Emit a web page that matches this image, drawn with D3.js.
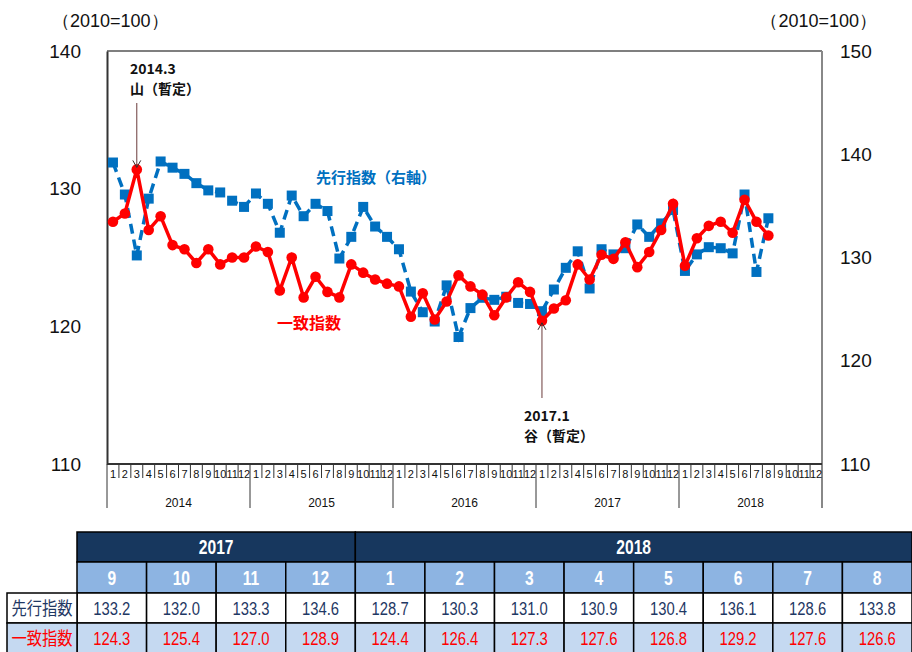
<!DOCTYPE html>
<html>
<head>
<meta charset="utf-8">
<script src="https://cdn.jsdelivr.net/npm/d3@7"></script>
<style>
  body { margin: 0; background: #fff; }
  svg { display: block; }
</style>
</head>
<body>
<div id="chart"></div>
<script>
// data (2014.1 - 2018.8)
var years = [2014, 2015, 2016, 2017, 2018];
var monthNames = ["1","2","3","4","5","6","7","8","9","10","11","12"];
var coincident = [
  127.6, 128.2, 131.4, 127.0, 128.0, 125.9, 125.6, 124.6, 125.6, 124.5, 125.0, 125.0,
  125.8, 125.4, 122.6, 125.0, 122.1, 123.6, 122.5, 122.1, 124.5, 123.9, 123.4, 123.1,
  122.9, 120.7, 122.4, 120.5, 121.8, 123.7, 122.9, 122.3, 120.8, 122.1, 123.2, 122.5,
  120.4, 121.3, 121.9, 124.5, 123.4, 125.2, 124.9, 126.1, 124.3, 125.4, 127.0, 128.9,
  124.4, 126.4, 127.3, 127.6, 126.8, 129.2, 127.6, 126.6
];
var leading = [
  139.2, 136.1, 130.2, 135.7, 139.3, 138.7, 138.1, 137.2, 136.5, 136.3, 135.5, 134.9,
  136.2, 135.2, 132.4, 136.0, 134.0, 135.2, 134.5, 129.9, 132.0, 134.9, 133.0, 132.0,
  130.8, 126.7, 124.7, 123.8, 127.3, 122.3, 125.1, 126.1, 125.9, 126.2, 125.6, 125.5,
  124.8, 126.9, 129.0, 130.6, 127.0, 130.8, 130.3, 130.9, 133.2, 132.0, 133.3, 134.6,
  128.7, 130.3, 131.0, 130.9, 130.4, 136.1, 128.6, 133.8
];
var leftTicks = [110, 120, 130, 140];
var rightTicks = [110, 120, 130, 140, 150];

// table
var tableYears = ["2017", "2018"];
var tableYearSpan = [4, 8];
var tableMonths = ["9","10","11","12","1","2","3","4","5","6","7","8"];
var tableLeading = ["133.2","132.0","133.3","134.6","128.7","130.3","131.0","130.9","130.4","136.1","128.6","133.8"];
var tableCoincident = ["124.3","125.4","127.0","128.9","124.4","126.4","127.3","127.6","126.8","129.2","127.6","126.6"];

var svgW = 912, svgH = 652;
var plotL = 107, plotR = 822, plotT = 51, plotB = 464;

var svg = d3.select("#chart").append("svg")
  .attr("width", svgW).attr("height", svgH);

var numFont = "'Liberation Sans', Arial, sans-serif";
var jpFont = "'Noto Sans CJK JP', sans-serif";

var allMonths = d3.range(years.length * 12);
var x = d3.scaleBand().domain(allMonths).range([plotL, plotR]).padding(0);
var yL = d3.scaleLinear().domain([110, 140]).range([plotB, plotT]);
var yR = d3.scaleLinear().domain([110, 150]).range([plotB, plotT]);
var cx = i => x(i) + x.bandwidth() / 2;

// frame
svg.append("line").attr("x1", plotL).attr("x2", plotR).attr("y1", plotT).attr("y2", plotT)
  .attr("stroke", "#555").attr("stroke-width", 1.5);
svg.append("line").attr("x1", plotR).attr("x2", plotR).attr("y1", plotT).attr("y2", plotB + 44)
  .attr("stroke", "#888").attr("stroke-width", 2);

// left axis
var gL = svg.append("g").attr("transform", `translate(${plotL},0)`)
  .call(d3.axisLeft(yL).tickValues(leftTicks).tickSize(0).tickPadding(26).tickFormat(d3.format("d")));
gL.select(".domain").attr("stroke", "#333").attr("stroke-width", 2);
gL.selectAll("text").attr("font-size", 19).attr("fill", "#111").attr("font-family", numFont);

// right axis
var gR = svg.append("g").attr("transform", `translate(${plotR},0)`)
  .call(d3.axisRight(yR).tickValues(rightTicks).tickSize(0).tickPadding(18).tickFormat(d3.format("d")));
gR.select(".domain").remove();
gR.selectAll("text").attr("font-size", 19).attr("fill", "#111").attr("font-family", numFont);

// unit labels
svg.append("text").attr("x", 52).attr("y", 27).attr("font-size", 18)
  .attr("font-family", numFont).attr("fill", "#111").text("（2010=100）");
svg.append("text").attr("x", 877).attr("y", 27).attr("font-size", 18).attr("text-anchor", "end")
  .attr("font-family", numFont).attr("fill", "#111").text("（2010=100）");

// bottom axis: month ticks and year blocks
var gX = svg.append("g");
gX.append("line").attr("x1", plotL).attr("x2", plotR).attr("y1", plotB).attr("y2", plotB)
  .attr("stroke", "#333").attr("stroke-width", 2);
allMonths.forEach(function(i) {
  var m = i % 12;
  var xs = x(i);
  gX.append("line").attr("x1", xs).attr("x2", xs).attr("y1", plotB)
    .attr("y2", m === 0 ? plotB + 44 : plotB + 14)
    .attr("stroke", "#333").attr("stroke-width", 1);
  gX.append("text").attr("x", cx(i)).attr("y", plotB + 14)
    .attr("text-anchor", "middle").attr("font-size", 11).attr("font-family", numFont)
    .attr("fill", "#111").text(monthNames[m]);
});
years.forEach(function(yr, k) {
  gX.append("text").attr("x", (x(k * 12) + x(k * 12 + 11) + x.bandwidth()) / 2).attr("y", plotB + 43)
    .attr("text-anchor", "middle").attr("font-size", 12).attr("font-family", numFont)
    .attr("fill", "#111").text(yr);
});

// leading index (right axis)
var lineR = d3.line().x((d, i) => cx(i)).y(d => yR(d));
svg.append("path").datum(leading).attr("d", lineR)
  .attr("fill", "none").attr("stroke", "#0070C0").attr("stroke-width", 3.5)
  .attr("stroke-dasharray", "10,6");
svg.selectAll("rect.lead").data(leading).enter().append("rect")
  .attr("class", "lead")
  .attr("x", (d, i) => cx(i) - 5).attr("y", d => yR(d) - 5)
  .attr("width", 10).attr("height", 10).attr("fill", "#0070C0");

// coincident index (left axis)
var lineL = d3.line().x((d, i) => cx(i)).y(d => yL(d));
svg.append("path").datum(coincident).attr("d", lineL)
  .attr("fill", "none").attr("stroke", "#FF0000").attr("stroke-width", 3.5);
svg.selectAll("circle.coin").data(coincident).enter().append("circle")
  .attr("class", "coin")
  .attr("cx", (d, i) => cx(i)).attr("cy", d => yL(d))
  .attr("r", 5.3).attr("fill", "#FF0000");

// series labels
svg.append("text").attr("x", 316).attr("y", 183).attr("font-size", 15).attr("font-weight", "bold")
  .attr("font-family", jpFont).attr("fill", "#0070C0").text("先行指数（右軸）");
svg.append("text").attr("x", 277).attr("y", 329).attr("font-size", 16).attr("font-weight", "bold")
  .attr("font-family", jpFont).attr("fill", "#FF0000").text("一致指数");

// peak / trough annotations
function arrow(xp, y1, y2) {
  var dir = y2 > y1 ? -1 : 1;
  svg.append("line").attr("x1", xp).attr("x2", xp).attr("y1", y1).attr("y2", y2)
    .attr("stroke", "#6b3b3b").attr("stroke-width", 1);
  svg.append("path")
    .attr("d", `M${xp - 4},${y2 + dir * 7}L${xp},${y2}L${xp + 4},${y2 + dir * 7}`)
    .attr("fill", "none").attr("stroke", "#3b2b2b").attr("stroke-width", 1);
}
var peakI = 2, troughI = 36;
arrow(cx(peakI), 103, yL(coincident[peakI]) - 2);
arrow(cx(troughI), 398, yL(coincident[troughI]) + 2);

function note(xp, yp, l1, l2) {
  svg.append("text").attr("x", xp).attr("y", yp).attr("font-size", 14).attr("font-weight", "bold")
    .attr("font-family", jpFont).attr("fill", "#111").text(l1);
  svg.append("text").attr("x", xp).attr("y", yp + 20).attr("font-size", 14).attr("font-weight", "bold")
    .attr("font-family", jpFont).attr("fill", "#111").text(l2);
}
note(130, 74, "2014.3", "山（暫定）");
note(524, 421, "2017.1", "谷（暫定）");

// table
var tx0 = 77, tx1 = 912;
var colW = (tx1 - tx0) / tableMonths.length;
var rowsY = [532, 562, 593, 623, 654];
var tg = svg.append("g");

// narrow text like the condensed font of the original table
function narrowText(xc, yb, str, size, fill, bold, font, sx) {
  tg.append("text").attr("transform", `translate(${xc},${yb}) scale(${sx || 0.78},1)`)
    .attr("text-anchor", "middle").attr("font-size", size)
    .attr("font-weight", bold ? "bold" : "normal")
    .attr("font-family", font || numFont).attr("fill", fill).text(str);
}

var col = 0;
tableYears.forEach(function(yr, k) {
  var x0 = tx0 + col * colW, w = tableYearSpan[k] * colW;
  tg.append("rect").attr("x", x0).attr("y", rowsY[0]).attr("width", w).attr("height", rowsY[1] - rowsY[0])
    .attr("fill", "#17375E").attr("stroke", "#000").attr("stroke-width", 1.5);
  narrowText(x0 + w / 2, rowsY[0] + 22, yr, 20, "#fff", true);
  col += tableYearSpan[k];
});

tableMonths.forEach(function(m, i) {
  var x0 = tx0 + i * colW;
  tg.append("rect").attr("x", x0).attr("y", rowsY[1]).attr("width", colW).attr("height", rowsY[2] - rowsY[1])
    .attr("fill", "#8DB4E2").attr("stroke", "#000").attr("stroke-width", 1.5);
  narrowText(x0 + colW / 2, rowsY[1] + 23, m, 20, "#fff", true);
  tg.append("rect").attr("x", x0).attr("y", rowsY[2]).attr("width", colW).attr("height", rowsY[3] - rowsY[2])
    .attr("fill", "#fff").attr("stroke", "#000").attr("stroke-width", 1.5);
  narrowText(x0 + colW / 2, rowsY[2] + 22, tableLeading[i], 19, "#1F3864", false);
  tg.append("rect").attr("x", x0).attr("y", rowsY[3]).attr("width", colW).attr("height", rowsY[4] - rowsY[3])
    .attr("fill", "#C5D9F1").attr("stroke", "#000").attr("stroke-width", 1.5);
  narrowText(x0 + colW / 2, rowsY[3] + 22, tableCoincident[i], 19, "#FF0000", false);
});

// row labels
tg.append("rect").attr("x", 7).attr("y", rowsY[2]).attr("width", tx0 - 7).attr("height", rowsY[3] - rowsY[2])
  .attr("fill", "#fff").attr("stroke", "#000").attr("stroke-width", 1.5);
narrowText((7 + tx0) / 2, rowsY[2] + 22, "先行指数", 18, "#1F3864", false, jpFont, 0.85);
tg.append("rect").attr("x", 7).attr("y", rowsY[3]).attr("width", tx0 - 7).attr("height", rowsY[4] - rowsY[3])
  .attr("fill", "#C5D9F1").attr("stroke", "#000").attr("stroke-width", 1.5);
narrowText((7 + tx0) / 2, rowsY[3] + 22, "一致指数", 18, "#FF0000", false, jpFont, 0.85);
</script>
</body>
</html>
